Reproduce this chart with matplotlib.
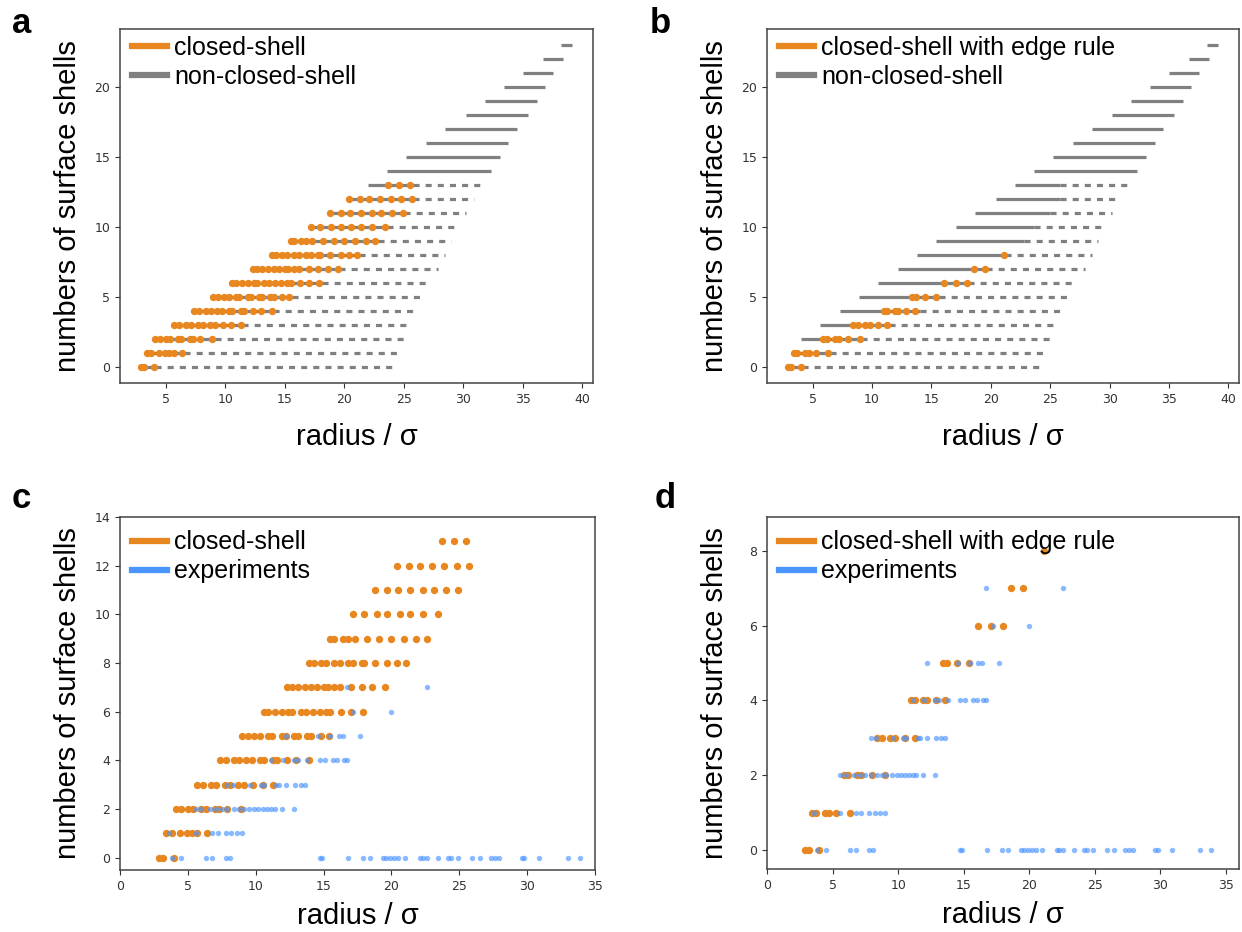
import matplotlib
matplotlib.use('Agg')
import matplotlib.pyplot as plt
from matplotlib.lines import Line2D

# colours
orange = '#e8861f'
gray = '#808080'
blue = '#4a94ff'

# --- gray "non-closed-shell" ranges, one entry per number of surface shells (0..23)
gray_start = [2.9, 3.3, 4.0, 5.6, 7.3, 8.9, 10.5, 12.2, 13.8, 15.4, 17.1, 18.7, 20.4,
              22.0, 23.6, 25.2, 26.9, 28.5, 30.2, 31.8, 33.4, 35.0, 36.7, 38.2]
gray_solid_end = [4.1, 6.5, 9.1, 11.4, 14.0, 15.6, 18.1, 19.6, 21.2, 22.8, 23.6, 25.0, 25.8,
                  25.8, 32.3, 33.1, 33.8, 34.5, 35.4, 36.2, 36.9, 37.5, 38.4, 39.1]
gray_end = [24.3, 24.7, 25.1, 25.6, 26.1, 26.7, 27.3, 27.9, 28.5, 29.0, 29.6, 30.2, 30.9,
            31.6, 32.3, 33.1, 33.8, 34.5, 35.4, 36.2, 36.9, 37.5, 38.4, 39.1]

# --- closed-shell radii, list index = number of surface shells
closed_shell = [
    [2.9, 3.2, 4.0],
    [3.4, 3.8, 4.4, 4.9, 5.3, 5.7, 6.4],
    [4.1, 4.5, 5.0, 5.4, 6.0, 6.3, 7.0, 7.3, 7.9, 8.9],
    [5.7, 6.1, 6.7, 7.1, 7.7, 8.1, 8.7, 9.1, 9.8, 10.5, 11.3],
    [7.4, 7.8, 8.4, 8.8, 9.3, 9.7, 10.3, 10.6, 11.3, 11.6, 12.3, 13.0, 13.9],
    [9.0, 9.4, 9.9, 10.3, 10.9, 11.2, 11.9, 12.2, 12.8, 13.1, 13.8, 14.1, 14.8, 15.4],
    [10.6, 10.9, 11.4, 11.9, 12.4, 12.7, 13.3, 13.7, 14.2, 14.7, 15.2, 15.5, 16.3, 17.0, 17.9],
    [12.3, 12.7, 13.1, 13.6, 14.1, 14.5, 15.0, 15.3, 15.8, 16.2, 17.0, 17.8, 18.6, 19.5],
    [13.9, 14.3, 14.8, 15.2, 15.8, 16.2, 16.8, 17.2, 17.8, 18.0, 18.8, 19.7, 20.4, 21.1],
    [15.5, 15.8, 16.4, 16.8, 17.3, 18.2, 19.1, 20.0, 20.9, 21.8, 22.6],
    [17.2, 18.0, 18.9, 19.7, 20.6, 21.4, 22.3, 23.4],
    [18.8, 19.7, 20.5, 21.4, 22.3, 23.1, 24.0, 24.9],
    [20.4, 21.3, 22.1, 23.0, 23.9, 24.8, 25.7],
    [23.7, 24.6, 25.5],
]

# --- closed-shell with edge rule
edge_rule = [
    [2.9, 3.2, 4.0],
    [3.4, 3.7, 4.4, 4.7, 5.3, 6.3],
    [5.9, 6.2, 6.9, 7.2, 8.0, 9.0],
    [8.4, 8.8, 9.4, 9.8, 10.5, 11.3],
    [11.0, 11.3, 11.9, 12.2, 12.9, 13.6],
    [13.4, 13.7, 14.5, 15.4],
    [16.1, 17.1, 18.0],
    [18.6, 19.5],
    [21.1],
]

# --- experiments
experiments = [
    [3.8, 4.5, 6.3, 6.8, 7.8, 8.1, 14.7, 14.9, 16.8, 17.9, 18.4, 19.4, 19.6, 19.9, 20.2,
     20.5, 21.0, 22.1, 22.3, 22.6, 23.4, 24.2, 24.4, 24.9, 25.9, 26.5, 27.3, 27.6, 27.9,
     29.6, 29.8, 30.9, 33.0, 33.9],
    [3.6, 5.6, 6.8, 7.2, 7.8, 8.2, 8.6, 9.0],
    [5.6, 6.0, 6.6, 7.1, 7.5, 7.9, 8.4, 8.8, 9.1, 9.5, 9.9, 10.2, 10.5, 10.8, 11.1, 11.4,
     11.9, 12.8],
    [7.9, 8.3, 9.6, 10.4, 10.6, 11.5, 11.7, 12.2, 12.9, 13.3, 13.6],
    [11.1, 12.0, 12.8, 13.1, 13.8, 14.7, 15.1, 15.7, 16.0, 16.5, 16.7],
    [12.2, 14.6, 15.5, 16.1, 16.4, 17.7],
    [17.2, 20.0],
    [16.7, 22.6],
]

label_font = 'Liberation Sans'


def flatten(rows):
    xs, ys = [], []
    for n, row in enumerate(rows):
        for r in row:
            xs.append(r)
            ys.append(n)
    return xs, ys


def style_axes(ax):
    for s in ax.spines.values():
        s.set_color('#444444')
        s.set_linewidth(1.1)
    ax.tick_params(labelsize=9, colors='#333333', length=3.5)
    ax.set_xlabel('radius / σ', fontsize=21, family=label_font)
    ax.set_ylabel('numbers of surface shells', fontsize=21, family=label_font)


def draw_gray(ax):
    for n in range(len(gray_start)):
        ax.plot([gray_start[n], gray_solid_end[n]], [n, n], color=gray, lw=2.3,
                solid_capstyle='butt', zorder=1)
        if gray_end[n] > gray_solid_end[n]:
            ax.plot([gray_solid_end[n], gray_end[n]], [n, n], color=gray, lw=2.3,
                    dashes=(1.9, 1.9), zorder=1)


def add_legend(ax, labels, colors, y_anchor):
    handles = [Line2D([], [], color=c, lw=4.5) for c in colors]
    ax.legend(handles, labels, loc='upper left', bbox_to_anchor=(0.025, y_anchor),
              frameon=False, borderaxespad=0, borderpad=0, handlelength=1.4,
              handletextpad=0.3, labelspacing=0.2,
              prop={'family': label_font, 'size': 18})


fig = plt.figure(figsize=(12.42, 9.32), dpi=100)
W, H = 1242, 932


def make_axes(l, r, t, b):
    return fig.add_axes([l / W, 1 - b / H, (r - l) / W, (b - t) / H])


ax_a = make_axes(120, 593, 29, 383)
ax_b = make_axes(767, 1239, 29, 383)
ax_c = make_axes(120, 595, 517, 870)
ax_d = make_axes(767, 1239, 517, 869)

# a
draw_gray(ax_a)
x, y = flatten(closed_shell)
ax_a.scatter(x, y, s=28, color=orange, linewidths=0, zorder=3)
ax_a.set_xlim(1.16, 40.9)
ax_a.set_ylim(-1.15, 24.15)
ax_a.set_xticks([5, 10, 15, 20, 25, 30, 35, 40])
ax_a.set_yticks([0, 5, 10, 15, 20])
add_legend(ax_a, ['closed-shell', 'non-closed-shell'], [orange, gray], 0.98)

# b
draw_gray(ax_b)
x, y = flatten(edge_rule)
ax_b.scatter(x, y, s=28, color=orange, linewidths=0, zorder=3)
ax_b.set_xlim(1.16, 40.9)
ax_b.set_ylim(-1.15, 24.15)
ax_b.set_xticks([5, 10, 15, 20, 25, 30, 35, 40])
ax_b.set_yticks([0, 5, 10, 15, 20])
add_legend(ax_b, ['closed-shell with edge rule', 'non-closed-shell'], [orange, gray], 0.98)

# c
x, y = flatten(closed_shell)
ax_c.scatter(x, y, s=28, color=orange, linewidths=0, zorder=2)
x, y = flatten(experiments)
ax_c.scatter(x, y, s=15, color=blue, alpha=0.65, linewidths=0, zorder=3)
ax_c.set_xlim(0, 35)
ax_c.set_ylim(-0.5, 14)
ax_c.set_yticks(range(0, 15, 2))
add_legend(ax_c, ['closed-shell', 'experiments'], [orange, blue], 0.962)

# d
x, y = flatten(edge_rule)
ax_d.scatter(x, y, s=28, color=orange, linewidths=0, zorder=2)
x, y = flatten(experiments)
ax_d.scatter(x, y, s=15, color=blue, alpha=0.65, linewidths=0, zorder=3)
ax_d.set_xlim(0, 36)
ax_d.set_ylim(-0.5, 8.9)
ax_d.set_xticks(range(0, 36, 5))
ax_d.set_yticks(range(0, 9, 2))
add_legend(ax_d, ['closed-shell with edge rule', 'experiments'], [orange, blue], 0.962)

for ax in (ax_a, ax_b, ax_c, ax_d):
    style_axes(ax)
    ax.yaxis.set_label_coords(-0.081, 0.5)
ax_a.xaxis.set_label_coords(0.5, -0.113)
ax_b.xaxis.set_label_coords(0.5, -0.113)
ax_c.xaxis.set_label_coords(0.5, -0.09)
ax_d.xaxis.set_label_coords(0.5, -0.09)

for txt, px, py in [('a', 12, 33), ('b', 650, 33), ('c', 12, 508), ('d', 655, 508)]:
    fig.text(px / W, 1 - py / H, txt, fontsize=25, weight='bold', family=label_font,
             va='baseline', ha='left')

fig.savefig('out.png', dpi=100)
